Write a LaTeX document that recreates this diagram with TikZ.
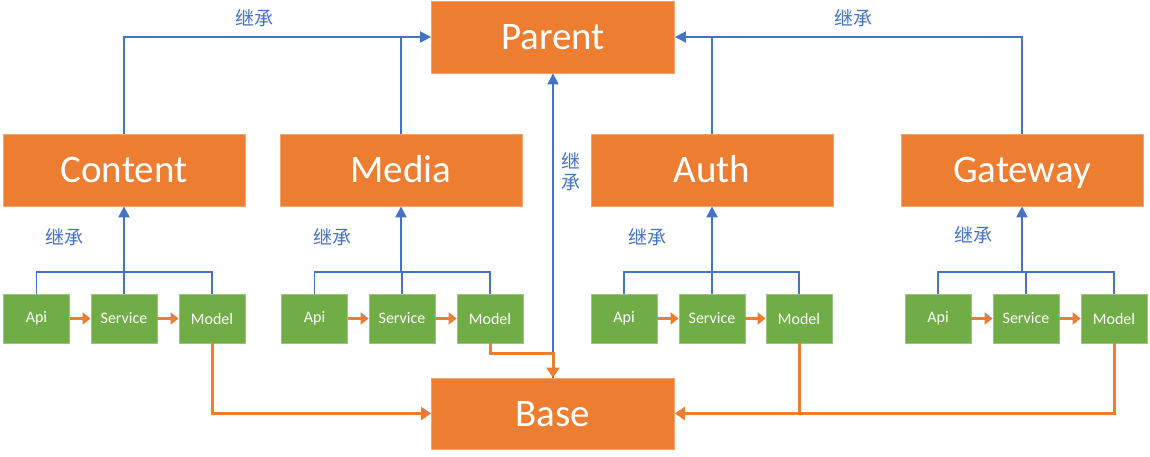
\documentclass[tikz,border=0pt]{standalone}
\usepackage{fontspec}
\setmainfont{Carlito}
\newfontfamily\cjk{Noto Sans CJK SC}
\usetikzlibrary{arrows.meta}
\definecolor{orng}{HTML}{ED7D31}
\definecolor{grn}{HTML}{70AD47}
\definecolor{blu}{HTML}{4472C4}
\tikzset{
  bigbox/.style={fill=orng, draw=orng!70!white, line width=0.8pt, text=white, inner sep=0pt, text height=26pt, text depth=1pt, font=\fontsize{39}{42}\selectfont},
  smallbox/.style={fill=grn, draw=grn!70!white, line width=0.8pt, text=white, inner sep=0pt, minimum width=66pt, minimum height=49pt, font=\fontsize{16}{18}\selectfont},
  bline/.style={draw=blu, line width=1.8pt},
  barrow/.style={draw=blu, line width=2.3pt, -{Triangle[length=11pt,width=11pt]}},
  btip/.style={-{Triangle[length=11pt,width=11pt]}},
  oline/.style={draw=orng, line width=3pt},
  otip/.style={-{Triangle[length=10pt,width=13pt]}},
  lbl/.style={text=blu, inner sep=0pt, font=\cjk\fontsize{19}{21}\selectfont}
}
\begin{document}
\begin{tikzpicture}[x=1pt,y=-1pt]
\useasboundingbox (0,0) rectangle (1150,457);
% big boxes
\node[bigbox, minimum width=243pt, minimum height=72pt] (Parent) at (553,37) {Parent};
\node[bigbox, minimum width=243pt, minimum height=71pt] (Base) at (553,413.5) {Base};
\node[bigbox, minimum width=242pt, minimum height=72pt] (Content) at (124,170) {Content};
\node[bigbox, minimum width=242pt, minimum height=72pt] (Media) at (401,170) {Media};
\node[bigbox, minimum width=242pt, minimum height=72pt] (Auth) at (712,170) {Auth};
\node[bigbox, minimum width=242pt, minimum height=72pt] (Gateway) at (1022,170) {Gateway};
% small boxes
\node[smallbox] (cApi) at (36.5,318.5) {Api};
\node[smallbox] (cSvc) at (124,318.5) {Service};
\node[smallbox] (cMod) at (212,318.5) {Model};
\node[smallbox] (mApi) at (314.5,318.5) {Api};
\node[smallbox] (mSvc) at (402,318.5) {Service};
\node[smallbox] (mMod) at (490,318.5) {Model};
\node[smallbox] (aApi) at (624,318.5) {Api};
\node[smallbox] (aSvc) at (712,318.5) {Service};
\node[smallbox] (aMod) at (799,318.5) {Model};
\node[smallbox] (gApi) at (938,318.5) {Api};
\node[smallbox] (gSvc) at (1026,318.5) {Service};
\node[smallbox] (gMod) at (1114,318.5) {Model};
% green chain arrows
\foreach \p in {c,m,a,g}{
  \draw[oline, -{Triangle[length=8pt,width=12pt]}] (\p Api.east) -- (\p Svc.west);
  \draw[oline, -{Triangle[length=8pt,width=12pt]}] (\p Svc.east) -- (\p Mod.west);
}
% brackets to sub parents
\coordinate (cb) at (124,272);
\coordinate (mb) at (401,272);
\coordinate (ab) at (712,272);
\coordinate (gb) at (1022,272);
\draw[bline] (cApi.north) |- (cb) -| (cMod.north);
\draw[bline] (cSvc.north) -- (cSvc.north |- cb);
\draw[barrow] (cb) -- (Content.south);
\draw[bline] (mApi.north) |- (mb) -| (mMod.north);
\draw[bline] (mSvc.north) -- (mSvc.north |- mb);
\draw[barrow] (mb) -- (Media.south);
\draw[bline] (aApi.north) |- (ab) -| (aMod.north);
\draw[bline] (aSvc.north) -- (aSvc.north |- ab);
\draw[barrow] (ab) -- (Auth.south);
\draw[bline] (gApi.north) |- (gb) -| (gMod.north);
\draw[bline] (gSvc.north) -- (gSvc.north |- gb);
\draw[barrow] (gb) -- (Gateway.south);
% top inheritance
\draw[bline, btip] (Content.north) |- (Parent.west);
\draw[bline] (Media.north) -- (Media.north |- Parent.west);
\draw[bline, btip] (Gateway.north) |- (Parent.east);
\draw[bline] (Auth.north) -- (Auth.north |- Parent.east);
% base to parent
\draw[bline, btip] (Base.north) -- (Parent.south);
% models to base
\draw[oline, otip] (cMod.south) |- (Base.west);
\draw[oline, otip] (gMod.south) |- (Base.east);
\draw[oline] (aMod.south) -- (aMod.south |- Base.east);
\draw[oline, otip] (mMod.south) -- ++(0,10) -| (Base.north);
% labels
\node[lbl] (l1) at (254,18) {继承};
\node[lbl] (l2) at (853,18) {继承};
\node[lbl] (l3) at (64,237) {继承};
\node[lbl] (l4) at (332,237) {继承};
\node[lbl] (l5) at (647,237) {继承};
\node[lbl] (l6) at (973,235) {继承};
\node[lbl, align=center] (l7) at (571,172) {继\\承};
\end{tikzpicture}
\end{document}
